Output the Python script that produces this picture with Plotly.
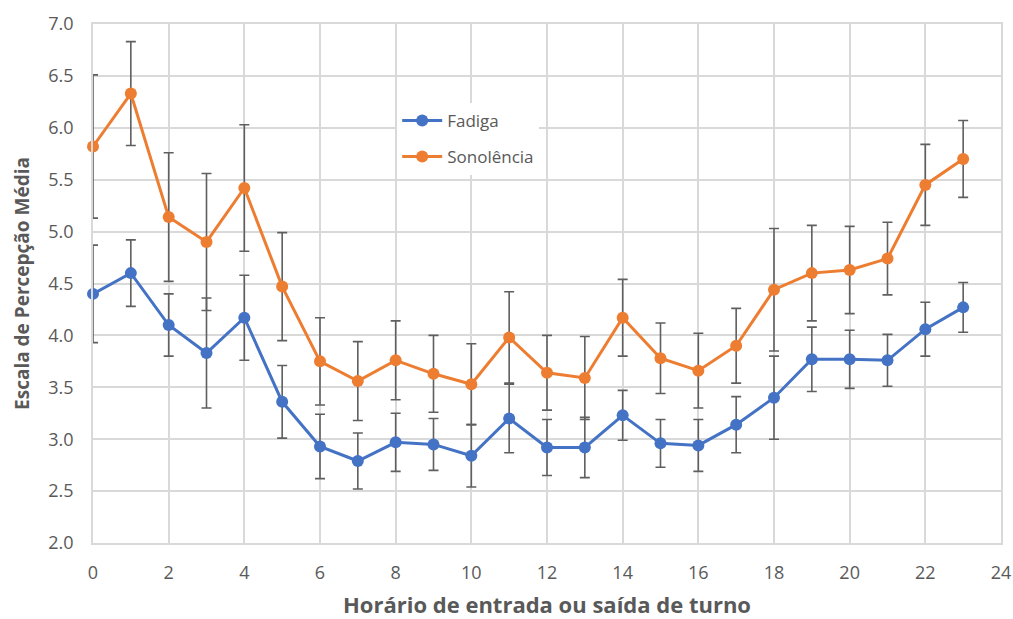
import plotly.graph_objects as go

# Hour of shift start/end
horas = list(range(24))

# Mean perceived fatigue and its error
fadiga = [4.40, 4.60, 4.10, 3.83, 4.17, 3.36, 2.93, 2.79, 2.97, 2.95, 2.84, 3.20,
          2.92, 2.92, 3.23, 2.96, 2.94, 3.14, 3.40, 3.77, 3.77, 3.76, 4.06, 4.27]
fadiga_erro = [0.47, 0.32, 0.30, 0.53, 0.41, 0.35, 0.31, 0.27, 0.28, 0.25, 0.30, 0.33,
               0.27, 0.29, 0.24, 0.23, 0.25, 0.27, 0.40, 0.31, 0.28, 0.25, 0.26, 0.24]

# Mean perceived sleepiness and its error
sonolencia = [5.82, 6.33, 5.14, 4.90, 5.42, 4.47, 3.75, 3.56, 3.76, 3.63, 3.53, 3.98,
              3.64, 3.59, 4.17, 3.78, 3.66, 3.90, 4.44, 4.60, 4.63, 4.74, 5.45, 5.70]
sonolencia_erro = [0.69, 0.50, 0.62, 0.66, 0.61, 0.52, 0.42, 0.38, 0.38, 0.37, 0.39, 0.44,
                   0.36, 0.40, 0.37, 0.34, 0.36, 0.36, 0.59, 0.46, 0.42, 0.35, 0.39, 0.37]

x_ticks = list(range(0, 25, 2))
y_ticks = [2.0, 2.5, 3.0, 3.5, 4.0, 4.5, 5.0, 5.5, 6.0, 6.5, 7.0]

FONT = "Open Sans"
GRAY = "#595959"
GRID = "#D9D9D9"
ERR = "#5f5f5f"

fig = go.Figure()

for nome, vals, errs, cor in [
    ("Fadiga", fadiga, fadiga_erro, "#4472C4"),
    ("Sonolência", sonolencia, sonolencia_erro, "#ED7D31"),
]:
    fig.add_trace(go.Scatter(
        x=horas, y=vals, name=nome, legendgroup=nome,
        mode="lines+markers",
        line=dict(color=cor, width=3),
        marker=dict(color=cor, size=12),
        error_y=dict(type="data", array=errs, visible=True,
                     color=ERR, thickness=1.6, width=5),
        cliponaxis=False,
    ))

fig.update_layout(
    width=1013, height=619,
    margin=dict(l=93, r=12, t=24, b=76),
    paper_bgcolor="white",
    plot_bgcolor="white",
    font=dict(family=FONT, color=GRAY),
    showlegend=True,
    legend=dict(
        x=0.335, y=0.848, xanchor="left", yanchor="top",
        bgcolor="white",
        font=dict(family=FONT, size=17, color=GRAY),
        tracegroupgap=11,
        itemwidth=40,
    ),
    xaxis=dict(
        range=[0, 24],
        tickvals=x_ticks,
        ticktext=[str(v) for v in x_ticks],
        tickfont=dict(family=FONT, size=18, color=GRAY),
        ticklabelstandoff=13,
        showgrid=True, gridcolor=GRID, gridwidth=1.5,
        showline=True, linecolor=GRID, linewidth=1.5, mirror=True,
        zeroline=False,
        ticks="",
        automargin=False,
        title=dict(text="<b>Horário de entrada ou saída de turno</b>",
                   font=dict(family=FONT, size=22, color=GRAY), standoff=16),
    ),
    yaxis=dict(
        range=[2.0, 7.0],
        tickvals=y_ticks,
        ticktext=[f"{v:.1f}" for v in y_ticks],
        tickfont=dict(family=FONT, size=18, color=GRAY),
        ticklabelstandoff=14,
        showgrid=True, gridcolor=GRID, gridwidth=1.5,
        showline=True, linecolor=GRID, linewidth=1.5, mirror=True,
        zeroline=False,
        ticks="",
        automargin=False,
        title=dict(text="<b>Escala de Percepção Média</b>",
                   font=dict(family=FONT, size=19, color=GRAY), standoff=14),
    ),
)

fig.write_html("out.html")
